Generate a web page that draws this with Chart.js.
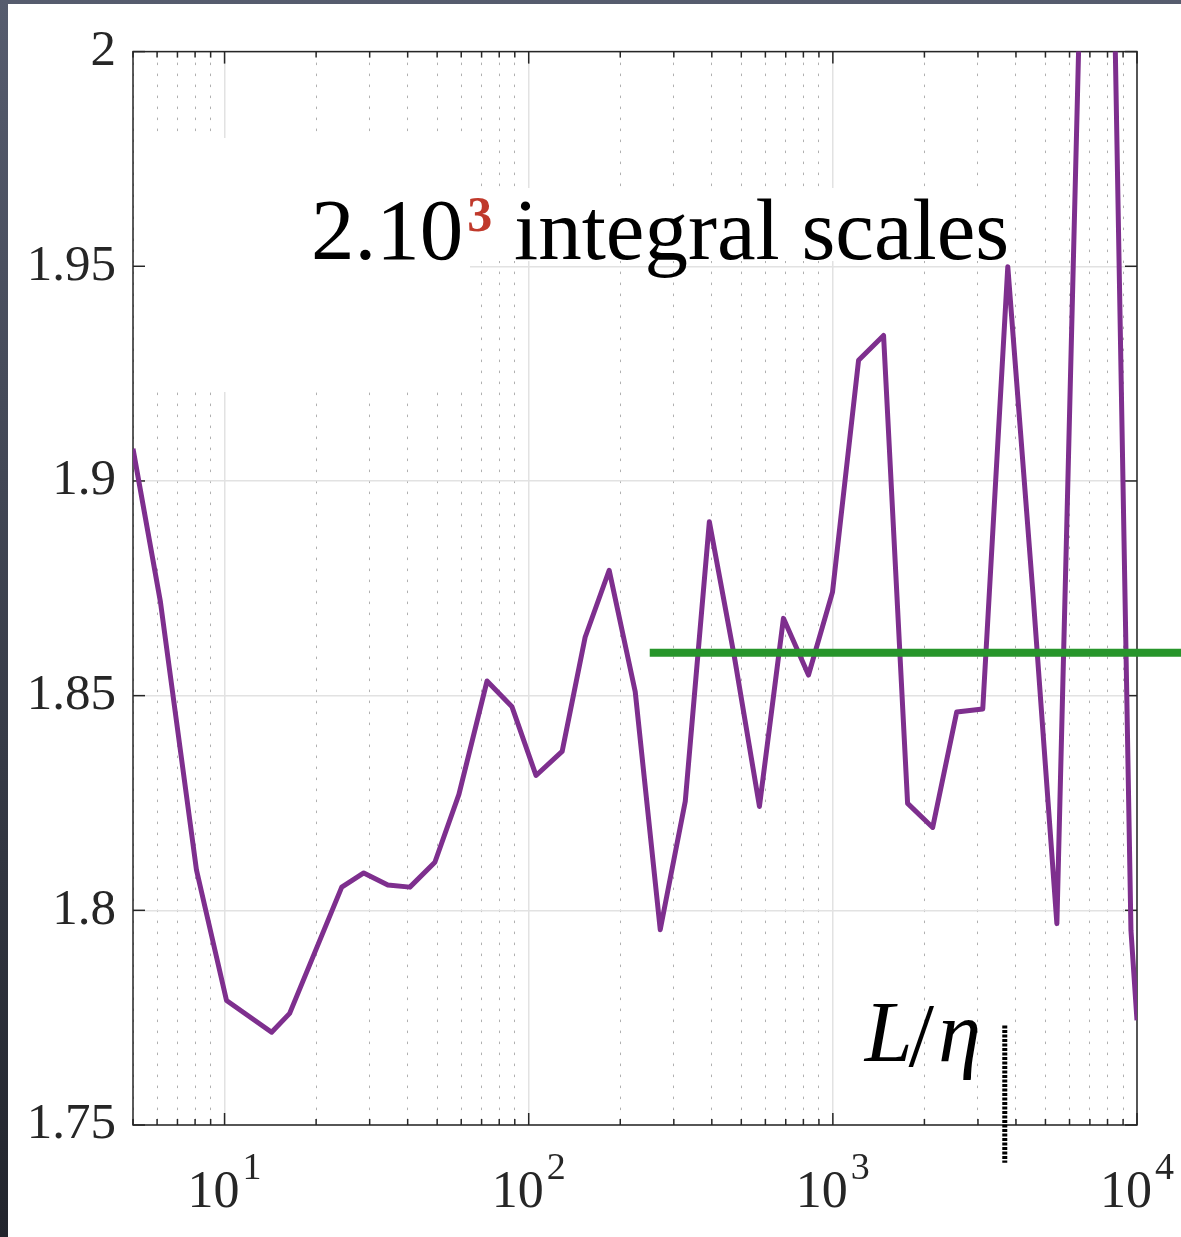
<!DOCTYPE html>
<html>
<head>
<meta charset="utf-8">
<script src="https://cdn.jsdelivr.net/npm/chart.js@4.4.1/dist/chart.umd.min.js"></script>
<style>
  html, body { margin: 0; padding: 0; }
  body { width: 1181px; height: 1237px; overflow: hidden; position: relative;
         background: linear-gradient(to bottom, #565c6e, #22252d); }
  #box { position: absolute; left: 8px; top: 4px; width: 1173px; height: 1233px; background: #fff; }
</style>
</head>
<body>
<div id="box"><canvas id="myChart" width="1173" height="1233"></canvas></div>
<script>
// purple curve, values
const xVals = [5, 6.155, 8.085, 10.15, 14.28, 16.37, 24.28, 28.69, 34.42, 40.67,
  49.15, 58.96, 72.93, 88.13, 105.7, 128.8, 153.3, 183.9, 224.0, 270.7,
  327.2, 392.6, 474.6, 573.6, 687.9, 831.6, 997.3, 1215, 1468, 1761,
  2129, 2554, 3111, 3760, 4545, 5452, 6590, 7905, 9555, 10000];
const yVals = [1.9075, 1.8718, 1.8094, 1.7790, 1.7716, 1.7760, 1.8054, 1.8087, 1.8059, 1.8054,
  1.8112, 1.8270, 1.8534, 1.8474, 1.8314, 1.8370, 1.8636, 1.8792, 1.8509, 1.7955,
  1.8254, 1.8905, 1.8590, 1.8242, 1.8680, 1.8548, 1.8741, 1.9281, 1.9339, 1.8249,
  1.8193, 1.8462, 1.8469, 1.9499, 1.8741, 1.7969, 2.0313, 2.1227, 1.7952, 1.7744];

// green level line
const levelX = [250, 14000];
const levelY = [1.86, 1.86];

// L/eta marker
const markX = [3675, 3675];
const markY = [1.7732, 1.7412];

const yTicks = [1.75, 1.8, 1.85, 1.9, 1.95, 2];
const xDecades = [1, 10, 100, 1000, 10000];
const xMultiples = [1, 2, 3, 4, 5, 6, 7, 8, 9];

const serif = "'Liberation Serif', 'DejaVu Serif', serif";
const ink = '#262626';

let xTickList = [];
xDecades.forEach(d => xMultiples.forEach(m => {
  const v = m * d;
  if (v >= 5 && v <= 10000) xTickList.push(v);
}));

function line(ctx, x1, y1, x2, y2) {
  ctx.beginPath();
  ctx.moveTo(x1, y1);
  ctx.lineTo(x2, y2);
  ctx.stroke();
}

const decor = {
  id: 'decor',
  beforeDatasetsDraw(chart) {
    const { ctx, chartArea: a, scales: { x, y } } = chart;
    ctx.save();
    // white boxes hiding the grid
    ctx.fillStyle = '#fff';
    ctx.fillRect(126, 134, 336, 254);
    ctx.fillRect(292, 184, 708, 73);

    // title
    ctx.fillStyle = '#000';
    ctx.textBaseline = 'alphabetic';
    ctx.font = '87px ' + serif;
    ctx.fillText('2.10', 303, 255);
    let w = ctx.measureText('2.10').width;
    ctx.fillStyle = '#c0392b';
    ctx.font = 'bold 50px ' + serif;
    ctx.fillText('3', 303 + w + 4, 227);
    ctx.fillStyle = '#000';
    ctx.font = '87px ' + serif;
    ctx.fillText('integral scales', 506, 255);

    // frame
    ctx.strokeStyle = ink;
    ctx.lineWidth = 1.5;
    ctx.strokeRect(a.left, a.top, a.right - a.left, a.bottom - a.top);

    // inward ticks
    x.ticks.forEach(t => {
      const px = x.getPixelForValue(t.value);
      const len = t.major ? 12 : 6;
      line(ctx, px, a.bottom, px, a.bottom - len);
      line(ctx, px, a.top, px, a.top + len);
    });
    y.ticks.forEach(t => {
      const py = y.getPixelForValue(t.value);
      line(ctx, a.left, py, a.left + 12, py);
      line(ctx, a.right, py, a.right - 12, py);
    });

    // x tick labels 10^n
    ctx.fillStyle = ink;
    x.ticks.filter(t => t.major).forEach(t => {
      const px = x.getPixelForValue(t.value);
      const ex = String(Math.round(Math.log10(t.value)));
      ctx.font = '52px ' + serif;
      const w1 = ctx.measureText('10').width;
      ctx.font = '38px ' + serif;
      const w2 = ctx.measureText(ex).width;
      const start = px - (w1 + w2 + 3) / 2;
      ctx.font = '52px ' + serif;
      ctx.fillText('10', start, 1203);
      ctx.font = '38px ' + serif;
      ctx.fillText(ex, start + w1 + 3, 1175);
    });

    // L/eta label
    const mx = x.getPixelForValue(markX[0]);
    ctx.fillStyle = '#000';
    let tx = mx - 140;
    ctx.font = 'italic 86px ' + serif;
    ctx.fillText('L', tx, 1057);
    tx += ctx.measureText('L').width - 4;
    ctx.font = '92px ' + serif;
    ctx.fillText('/', tx, 1062);
    tx += ctx.measureText('/').width + 4;
    ctx.font = 'italic 86px ' + serif;
    ctx.fillText('η', tx, 1057);
    ctx.restore();
  }
};

const ctx = document.getElementById('myChart');

new Chart(ctx, {
  type: 'line',
  data: {
    datasets: [{
      data: xVals.map((v, i) => ({ x: v, y: yVals[i] })),
      borderColor: '#7e2f8e',
      borderWidth: 5,
      borderJoinStyle: 'round',
      pointRadius: 0,
      order: 2
    }, {
      data: levelX.map((v, i) => ({ x: v, y: levelY[i] })),
      borderColor: '#27952b',
      borderWidth: 8,
      pointRadius: 0,
      clip: false,
      order: 1
    }, {
      data: markX.map((v, i) => ({ x: v, y: markY[i] })),
      borderColor: '#000',
      borderWidth: 5,
      borderDash: [3, 1.5],
      pointRadius: 0,
      clip: false,
      order: 0
    }]
  },
  options: {
    responsive: false,
    animation: false,
    layout: { padding: { left: 0, top: 43, right: 44, bottom: 0 } },
    plugins: { legend: { display: false }, tooltip: { enabled: false } },
    scales: {
      x: {
        type: 'logarithmic',
        min: 5,
        max: 10000,
        afterBuildTicks: s => { s.ticks = xTickList.map(v => ({ value: v, major: xDecades.includes(v) })); },
        afterFit: s => { s.height = 112; },
        ticks: { display: false, autoSkip: false },
        grid: {
          drawTicks: false,
          color: c => (c.tick && c.tick.major) ? '#e2e2e2' : '#b0b0b0',
          lineWidth: c => (c.tick && c.tick.major) ? 1.5 : 1
        },
        border: { display: false, dash: c => (c.tick && !c.tick.major) ? [2.5, 8.5] : [] }
      },
      y: {
        min: 1.75,
        max: 2,
        afterBuildTicks: s => { s.ticks = yTicks.map(v => ({ value: v })); },
        afterFit: s => { s.width = 125; },
        ticks: {
          padding: 17,
          color: ink,
          font: { family: serif, size: 51 },
          callback: v => String(+v.toFixed(2))
        },
        grid: { drawTicks: false, color: '#e2e2e2', lineWidth: 1.5 },
        border: { display: false }
      }
    }
  },
  plugins: [decor]
});
</script>
</body>
</html>
